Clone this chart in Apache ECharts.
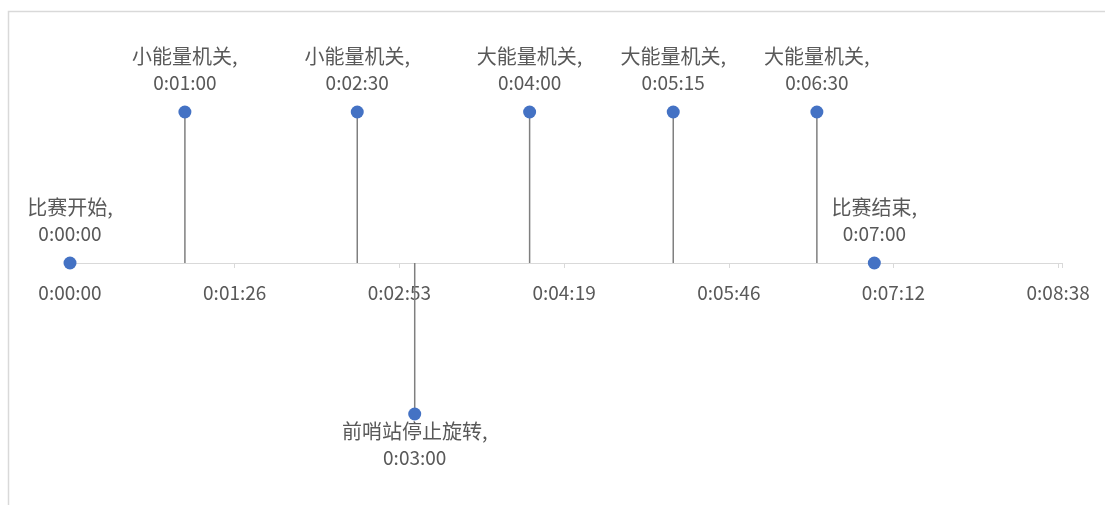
<!DOCTYPE html>
<html>
<head>
<meta charset="utf-8">
<script src="https://cdn.jsdelivr.net/npm/echarts@6/dist/echarts.min.js"></script>
<style>
  html, body { margin: 0; padding: 0; background: #fff; }
  #chart { width: 1105px; height: 505px; }
</style>
</head>
<body>
<div id="chart"></div>
<script>
// Match timeline: event names, times (seconds) and marker heights
const eventNames = ['比赛开始', '小能量机关', '小能量机关', '前哨站停止旋转', '大能量机关', '大能量机关', '大能量机关', '比赛结束'];
const eventSeconds = [0, 60, 150, 180, 240, 315, 390, 420];
const eventHeights = [0, 1, 1, -1, 1, 1, 1, 0];
const tickLabels = ['0:00:00', '0:01:26', '0:02:53', '0:04:19', '0:05:46', '0:07:12', '0:08:38'];
const axisMax = 518;
const tickStep = 86;

function fmtTime(s) {
  const h = Math.floor(s / 3600);
  const m = Math.floor((s % 3600) / 60);
  const sec = s % 60;
  return h + ':' + String(m).padStart(2, '0') + ':' + String(sec).padStart(2, '0');
}

const FONT = '"Noto Sans CJK SC", "Noto Sans", sans-serif';
const TEXT = '#595959';

const points = eventSeconds.map((t, i) => ({
  value: [t, eventHeights[i]],
  name: eventNames[i],
  label: {
    position: eventHeights[i] < 0 ? 'bottom' : 'top',
    distance: eventHeights[i] < 0 ? -3 : 9
  }
}));

// main plot: zero line sits at y = 263
const gridLeft = 70, gridRight = 43;

const chart = echarts.init(document.getElementById('chart'), null, { renderer: 'canvas' });
chart.setOption({
  animation: false,
  backgroundColor: '#fff',
  graphic: [{
    type: 'rect',
    shape: { x: 8.5, y: 11.5, width: 1200, height: 600 },
    style: { fill: 'none', stroke: '#d9d9d9', lineWidth: 1.5 },
    silent: true
  }],
  grid: [
    { left: gridLeft, right: gridRight, top: 36.5, height: 453, outerBoundsMode: 'none' },
    // thin strip at the zero line that carries the time tick labels
    { left: gridLeft, right: gridRight, top: 262, height: 1, outerBoundsMode: 'none' }
  ],
  xAxis: [
    {
      gridIndex: 0,
      type: 'value',
      min: 0,
      max: axisMax,
      interval: tickStep,
      axisLine: { onZero: true, lineStyle: { color: '#d9d9d9', width: 1 } },
      axisTick: { show: true, length: 5, inside: false, lineStyle: { color: '#d9d9d9' } },
      splitLine: { show: false },
      axisLabel: { show: false }
    },
    {
      gridIndex: 1,
      type: 'value',
      position: 'bottom',
      min: 0,
      max: axisMax,
      interval: tickStep,
      axisLine: { show: false },
      axisTick: { show: false },
      splitLine: { show: false },
      axisLabel: {
        color: TEXT,
        fontFamily: FONT,
        fontSize: 19,
        margin: 20,
        formatter: v => tickLabels[Math.round(v / tickStep)]
      }
    }
  ],
  yAxis: [
    { gridIndex: 0, type: 'value', min: -1.5, max: 1.5, show: false, splitLine: { show: false } },
    { gridIndex: 1, type: 'value', min: 0, max: 1, show: false, splitLine: { show: false } }
  ],
  series: [
    {
      // vertical drop lines from each event to the time axis
      type: 'custom',
      xAxisIndex: 0,
      yAxisIndex: 0,
      z: 1,
      silent: true,
      data: eventSeconds.map((t, i) => [t, eventHeights[i]]),
      renderItem: (params, api) => {
        const a = api.coord([api.value(0), 0]);
        const b = api.coord([api.value(0), api.value(1)]);
        return {
          type: 'line',
          shape: { x1: a[0], y1: a[1], x2: b[0], y2: b[1] },
          style: { stroke: '#7f7f7f', lineWidth: 1.5 }
        };
      }
    },
    {
      type: 'scatter',
      xAxisIndex: 0,
      yAxisIndex: 0,
      z: 3,
      symbol: 'circle',
      symbolSize: 13,
      itemStyle: { color: '#4472C4', opacity: 1 },
      data: points,
      label: {
        show: true,
        color: TEXT,
        fontFamily: FONT,
        align: 'center',
        formatter: p => '{n|' + p.name + ',}\n{t|' + fmtTime(p.value[0]) + '}',
        rich: {
          n: { fontSize: 20, lineHeight: 27, color: TEXT, fontFamily: FONT },
          t: { fontSize: 19, lineHeight: 27, color: TEXT, fontFamily: FONT }
        }
      }
    }
  ]
});
</script>
</body>
</html>
